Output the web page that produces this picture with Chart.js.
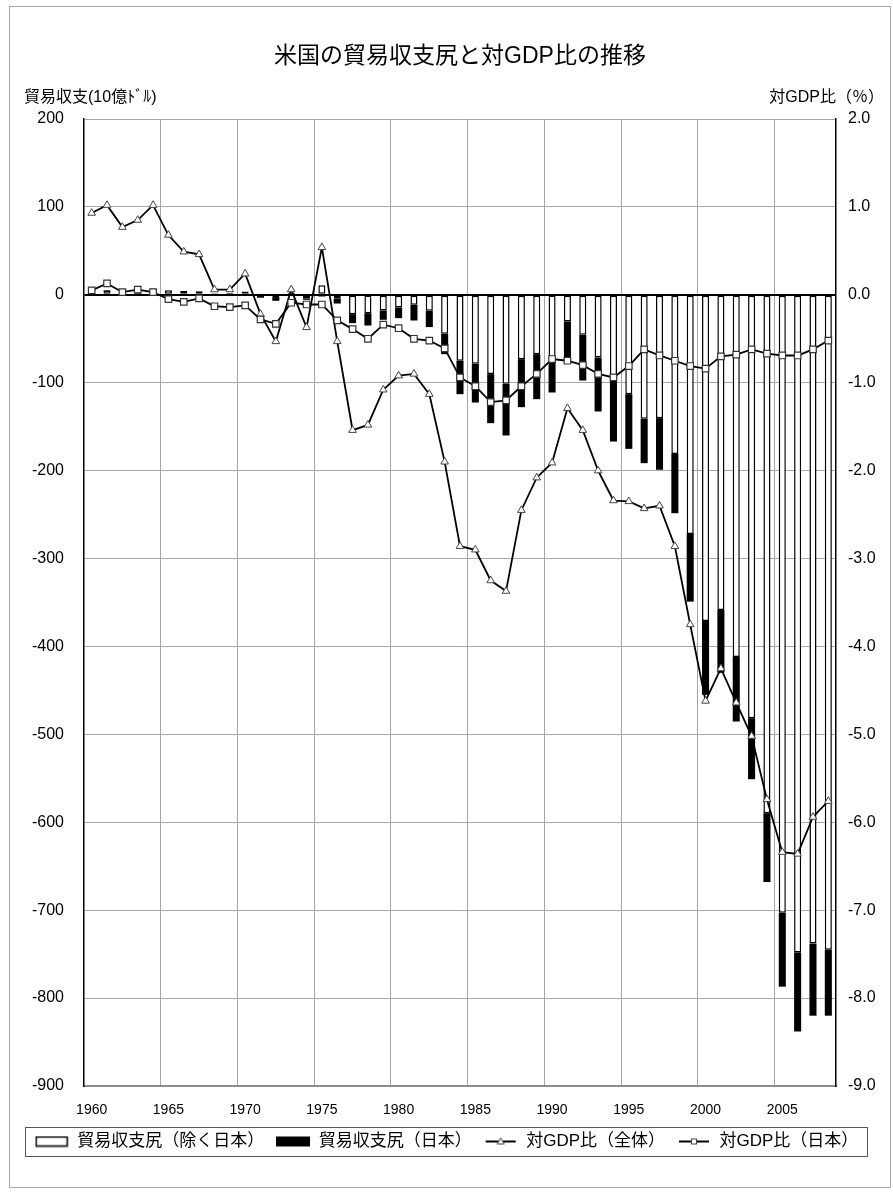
<!DOCTYPE html>
<html>
<head>
<meta charset="utf-8">
<script src="https://cdn.jsdelivr.net/npm/chart.js@4.4.1/dist/chart.umd.min.js"></script>
<style>
html,body{margin:0;padding:0;background:#fff}
#wrap{width:893px;height:1193px;position:relative}
</style>
</head>
<body>
<div id="wrap"><canvas id="c"></canvas></div>
<script>
// ---- data (billions of US$ and % of GDP) ----
const years = ['1960','1961','1962','1963','1964','1965','1966','1967','1968','1969',
  '1970','1971','1972','1973','1974','1975','1976','1977','1978','1979',
  '1980','1981','1982','1983','1984','1985','1986','1987','1988','1989',
  '1990','1991','1992','1993','1994','1995','1996','1997','1998','1999',
  '2000','2001','2002','2003','2004','2005','2006','2007','2008'];

const tickYears = ['1960','1965','1970','1975','1980','1985','1990','1995','2000','2005'];

// trade balance excluding Japan
const balanceExJapan = [4.6,4.8,4.3,4.9,6.6,5.3,4.4,4.1,1.8,2.0,
  3.7,0.7,-2.6,2.2,-4.0,11.0,-4.5,-22.0,-20.9,-17.8,
  -14.4,-11.4,-18.2,-44.4,-75.0,-78.5,-90.2,-101.3,-73.2,-67.5,
  -74.0,-30.3,-45.5,-71.3,-97.8,-113.0,-141.0,-140.3,-181.0,-272.0,
  -371.0,-358.4,-412.0,-481.6,-589.7,-703.0,-748.0,-738.0,-745.0];

// trade balance with Japan
const balanceJapan = [0.3,0.7,0.2,0.3,0.2,-0.4,-0.6,-0.3,-1.2,-1.4,
  -1.2,-3.3,-4.2,-1.3,-1.7,-1.9,-5.4,-10.2,-14.0,-10.6,
  -12.1,-17.8,-18.5,-23.1,-38.0,-44.0,-55.8,-58.7,-54.6,-51.2,
  -37.1,-45.6,-52.0,-61.4,-69.1,-62.2,-50.5,-58.7,-67.4,-77.0,
  -84.0,-71.6,-73.4,-69.4,-78.3,-84.0,-90.0,-82.0,-75.0];

// ratio to GDP, total (%)
const ratioTotal = [0.93,1.02,0.77,0.85,1.02,0.68,0.49,0.46,0.06,0.06,
  0.24,-0.22,-0.53,0.06,-0.37,0.54,-0.53,-1.54,-1.48,-1.08,
  -0.92,-0.90,-1.13,-1.90,-2.86,-2.90,-3.25,-3.37,-2.45,-2.08,
  -1.91,-1.29,-1.54,-2.00,-2.34,-2.35,-2.43,-2.40,-2.86,-3.75,
  -4.62,-4.25,-4.64,-5.02,-5.74,-6.34,-6.36,-5.94,-5.76];

// ratio to GDP, Japan (%)
const ratioJapan = [0.05,0.13,0.03,0.06,0.03,-0.05,-0.08,-0.04,-0.13,-0.14,
  -0.12,-0.28,-0.33,-0.09,-0.11,-0.11,-0.29,-0.39,-0.50,-0.34,
  -0.38,-0.50,-0.52,-0.61,-0.94,-1.04,-1.22,-1.20,-1.04,-0.90,
  -0.73,-0.75,-0.80,-0.90,-0.94,-0.81,-0.62,-0.69,-0.75,-0.81,
  -0.84,-0.70,-0.68,-0.62,-0.67,-0.69,-0.69,-0.62,-0.52];

const leftTicks = {min:-900, max:200, step:100};
const rightTicks = {min:-9, max:2, step:1};

const TITLE = '米国の貿易収支尻と対GDP比の推移';
const Y_TITLE = '貿易収支(10億ﾄﾞﾙ)';
const Y2_TITLE = '対GDP比（％）';
const LABELS = ['貿易収支尻（除く日本）','貿易収支尻（日本）','対GDP比（全体）','対GDP比（日本）'];

const FONT = "'Liberation Sans', 'Noto Sans CJK JP', sans-serif";
Chart.defaults.font.family = FONT;
Chart.defaults.color = '#000';

function makeIcon(kind){
  const c = document.createElement('canvas');
  c.width = 34; c.height = 12;
  const g = c.getContext('2d');
  if (kind === 'white'){
    g.fillStyle = '#fff'; g.fillRect(1,1,32,10);
    g.strokeStyle = '#000'; g.lineWidth = 1.5; g.strokeRect(1.5,1.5,31,9);
  } else if (kind === 'black'){
    g.fillStyle = '#000'; g.fillRect(0,1,34,10);
  } else {
    g.strokeStyle = '#000'; g.lineWidth = 2;
    g.beginPath(); g.moveTo(2,6); g.lineTo(32,6); g.stroke();
    g.fillStyle = '#fff'; g.strokeStyle = '#444'; g.lineWidth = 1;
    if (kind === 'tri'){
      g.beginPath(); g.moveTo(17,2.5); g.lineTo(20.5,8.5); g.lineTo(13.5,8.5); g.closePath(); g.fill(); g.stroke();
    } else {
      g.fillRect(14.5,3.5,5,5); g.strokeRect(14.5,3.5,5,5);
    }
  }
  return c;
}
const icons = [makeIcon('white'), makeIcon('black'), makeIcon('tri'), makeIcon('sq')];

const decor = {
  id: 'decor',
  beforeDraw(chart){
    const ctx = chart.ctx;
    ctx.save(); ctx.fillStyle = '#fff'; ctx.fillRect(0,0,chart.width,chart.height); ctx.restore();
  },
  afterDraw(chart){
    const {ctx, chartArea:a} = chart;
    ctx.save();
    ctx.fillStyle = '#000';
    ctx.textBaseline = 'middle';
    ctx.font = '23px ' + FONT;
    ctx.textAlign = 'center';
    ctx.fillText(TITLE, (a.left + a.right)/2, 57);
    ctx.font = '16px ' + FONT;
    ctx.textAlign = 'left';
    ctx.fillText(Y_TITLE, 24, 98);
    ctx.textAlign = 'right';
    ctx.fillText(Y2_TITLE, 884, 98);
    // legend frame
    const hb = chart.legend.legendHitBoxes;
    if (hb && hb.length){
      let l = Infinity, r = -Infinity, t = Infinity, b = -Infinity;
      hb.forEach(h => { l = Math.min(l,h.left); r = Math.max(r,h.left+h.width); t = Math.min(t,h.top); b = Math.max(b,h.top+h.height); });
      ctx.strokeStyle = '#555'; ctx.lineWidth = 1;
      ctx.strokeRect(Math.round(l-10)+0.5, Math.round(t-6)+0.5, Math.round(r-l+18), Math.round(b-t+12));
    }
    // outer frame
    ctx.strokeStyle = '#a8a8a8'; ctx.lineWidth = 1;
    ctx.strokeRect(9.5, 6.5, chart.width-12, chart.height-12);
    ctx.restore();
  }
};

new Chart(document.getElementById('c'), {
  type: 'bar',
  data: {
    labels: years,
    datasets: [
      {label: LABELS[0], data: balanceExJapan, backgroundColor:'#fff', borderColor:'#000', borderWidth:1.5, borderSkipped:false,
       stack:'bal', yAxisID:'y', order:2, barPercentage:0.46, categoryPercentage:1.0},
      {label: LABELS[1], data: balanceJapan, backgroundColor:'#000', borderColor:'#000', borderWidth:0,
       stack:'bal', yAxisID:'y', order:2, barPercentage:0.46, categoryPercentage:1.0},
      {type:'line', label: LABELS[2], data: ratioTotal, yAxisID:'y2', order:1,
       borderColor:'#000', borderWidth:1.8, tension:0, fill:false,
       pointStyle:'triangle', pointRadius:4.4, pointBackgroundColor:'#fff', pointBorderColor:'#444', pointBorderWidth:1},
      {type:'line', label: LABELS[3], data: ratioJapan, yAxisID:'y2', order:0,
       borderColor:'#000', borderWidth:1.8, tension:0, fill:false,
       pointStyle:'rect', pointRadius:4.6, pointBackgroundColor:'#fff', pointBorderColor:'#333', pointBorderWidth:1.2}
    ]
  },
  options: {
    responsive: true,
    maintainAspectRatio: false,
    animation: false,
    devicePixelRatio: 1,
    layout: {padding: {top:119, left:0, right:0, bottom:33}},
    plugins: {
      title: {display:false},
      tooltip: {enabled:false},
      legend: {
        display: true,
        position: 'bottom',
        labels: {
          usePointStyle: true,
          pointStyleWidth: 34,
          boxHeight: 12,
          padding: 12,
          color: '#000',
          font: {size:17},
          sort: (a, b) => a.datasetIndex - b.datasetIndex,
          generateLabels: (chart) => {
            const items = Chart.defaults.plugins.legend.labels.generateLabels(chart);
            items.forEach(it => { it.pointStyle = icons[it.datasetIndex]; });
            return items;
          }
        }
      }
    },
    scales: {
      x: {
        type: 'category',
        stacked: true,
        offset: true,
        grid: {
          offset: true,
          drawTicks: false,
          color: c => (c.index > 0 && c.index % 5 === 0 && c.index < years.length) ? '#a6a6a6' : 'rgba(0,0,0,0)',
          lineWidth: 1
        },
        border: {color:'#8c8c8c', width:2},
        ticks: {
          autoSkip: false, maxRotation: 0, minRotation: 0, padding: 16, color:'#000', font:{size:14},
          callback: (v, i) => tickYears.includes(years[i]) ? years[i] : ''
        },
        afterFit: s => { s.height = 35; }
      },
      y: {
        position: 'left',
        stacked: true,
        min: leftTicks.min, max: leftTicks.max,
        ticks: {stepSize: leftTicks.step, padding: 20, color:'#000', font:{size:16}},
        grid: {
          drawTicks: false,
          color: c => (c.tick && c.tick.value === 0) ? '#000' : '#a6a6a6',
          lineWidth: c => (c.tick && c.tick.value === 0) ? 2 : 1
        },
        border: {color:'#000', width:1.5},
        afterFit: s => { s.width = 84; }
      },
      y2: {
        position: 'right',
        min: rightTicks.min, max: rightTicks.max,
        ticks: {stepSize: rightTicks.step, padding: 12, color:'#000', font:{size:16}, callback: v => Number(v).toFixed(1)},
        grid: {drawOnChartArea:false, drawTicks:false},
        border: {color:'#000', width:1.5},
        afterFit: s => { s.width = 57; }
      }
    }
  },
  plugins: [decor]
});
</script>
</body>
</html>
